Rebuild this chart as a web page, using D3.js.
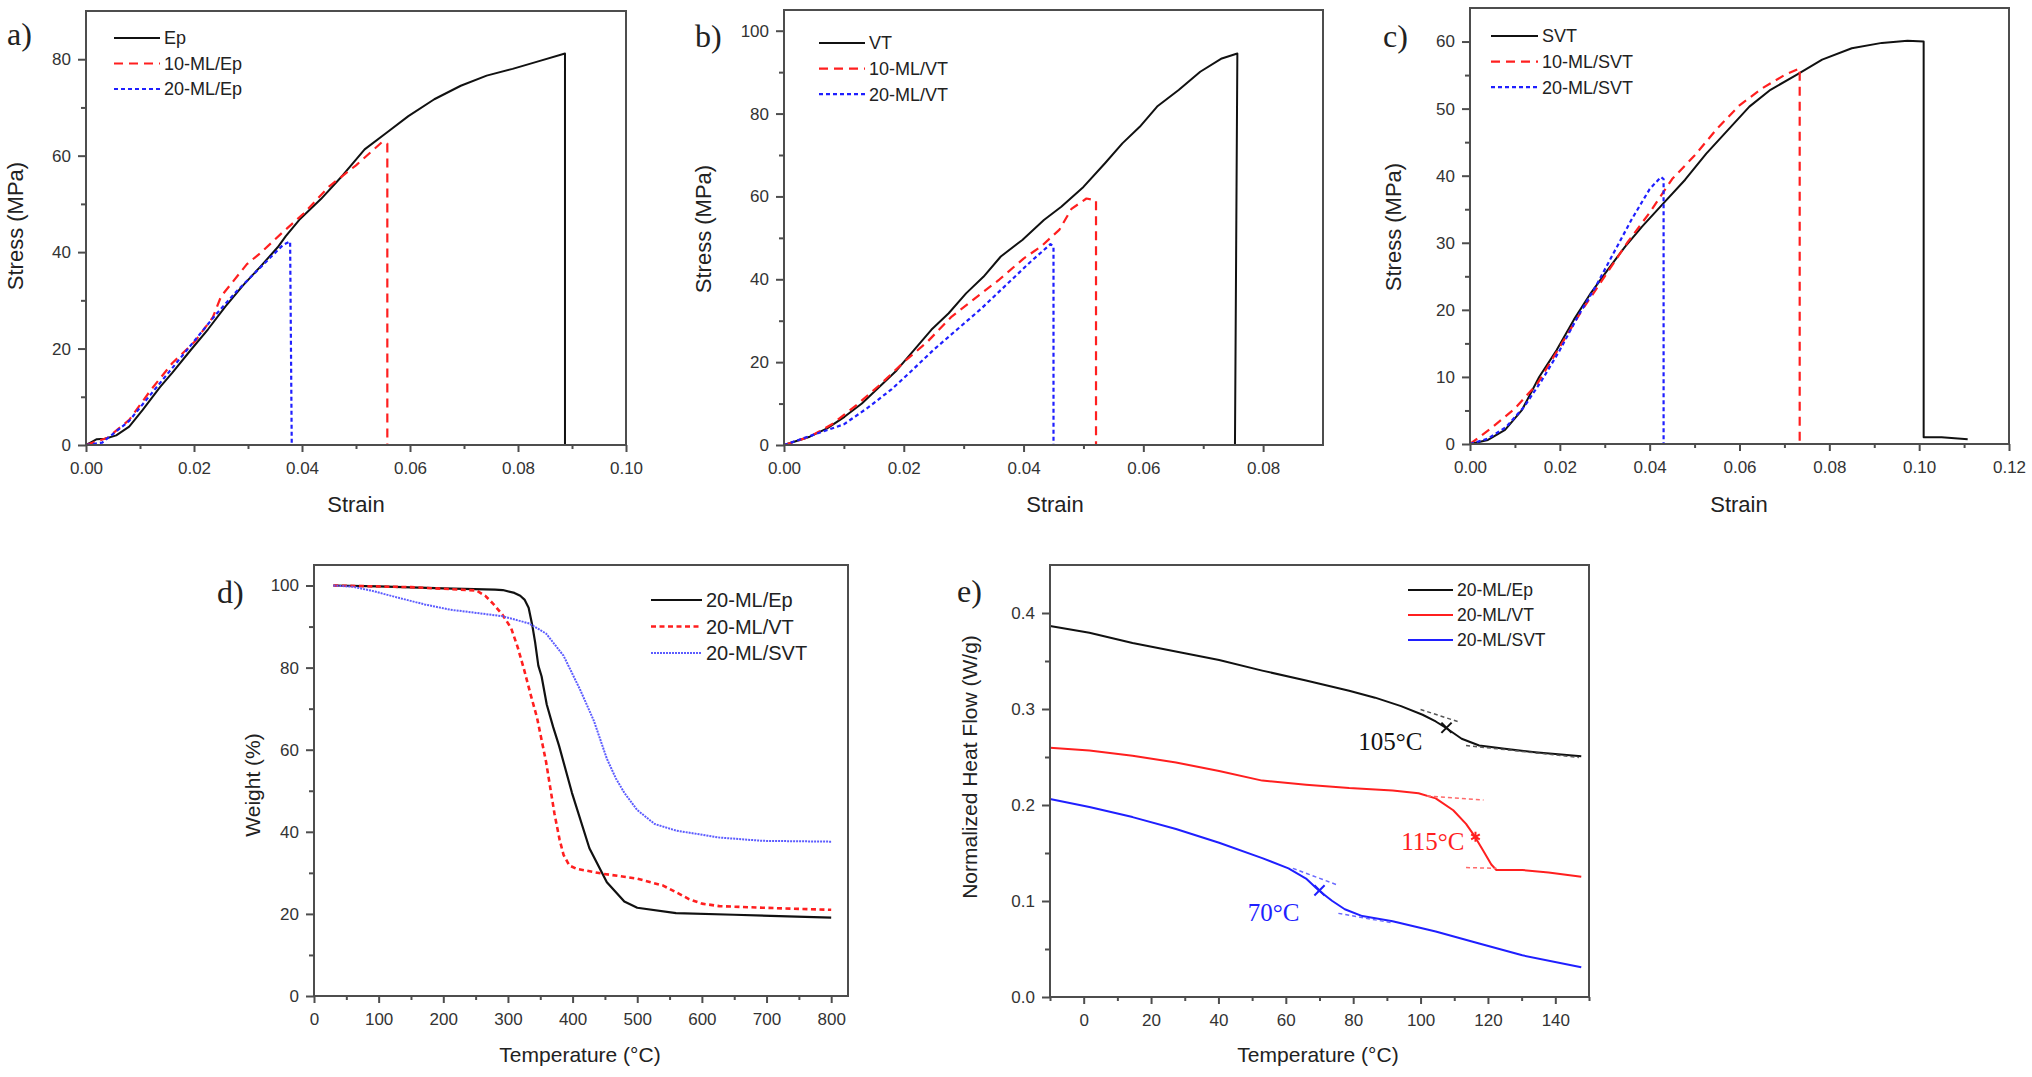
<!DOCTYPE html>
<html>
<head>
<meta charset="utf-8">
<script src="https://cdn.jsdelivr.net/npm/d3@7"></script>
<style>
  body { margin: 0; background: #fff; }
  svg { display: block; }
  text { font-family: "Liberation Sans", Arial, sans-serif; fill: #222; }
  .serif { font-family: "Liberation Serif", "Times New Roman", serif; }
  .tick text { fill: #333; }
</style>
</head>
<body>
<svg id="fig" width="2032" height="1077"></svg>
<script>
// ---- a) tensile, epoxy series [strain, stress MPa]
const aEp = [[0,0],[0.001,0.6],[0.002,1.2],[0.0035,1.3],[0.0056,2],[0.008,3.8],[0.0105,7.3],[0.0137,12],[0.016,15],
  [0.0194,19.7],[0.0226,24],[0.0258,28.7],[0.029,33],[0.0323,37],[0.0355,41],[0.037,43.3],[0.0395,46.7],[0.0435,51],
  [0.0476,56],[0.0516,61.3],[0.0556,64.7],[0.0597,68.2],[0.0645,71.7],[0.0694,74.5],[0.0742,76.6],[0.079,78],
  [0.0839,79.6],[0.0887,81.2],[0.0887,0]];
const aMl10 = [[0,0],[0.004,1.5],[0.008,5.2],[0.012,11.4],[0.016,17],[0.0202,21.5],[0.0235,26.5],[0.025,30.8],
  [0.0298,37.5],[0.0325,40],[0.0363,44],[0.0403,48],[0.045,53.6],[0.05,58],[0.0548,62.8],[0.0558,62.5],[0.0558,0]];
const aMl20 = [[0,0],[0.003,0.5],[0.008,5],[0.012,10.5],[0.016,16],[0.02,21.5],[0.024,27],[0.028,32],[0.032,36.5],
  [0.0365,41.5],[0.0378,42.2],[0.0381,0]];

// ---- b) tensile, VT series
const bVt = [[0,0],[0.0043,2],[0.0072,4],[0.0101,6.8],[0.013,10],[0.0159,14],[0.0188,18],[0.0217,22.9],[0.0246,27.8],
  [0.0275,31.8],[0.0304,36.6],[0.0333,40.6],[0.0362,45.5],[0.0398,49.5],[0.0434,54.3],[0.0463,57.5],[0.05,62.3],
  [0.0536,68],[0.0565,72.8],[0.0594,76.8],[0.0623,81.7],[0.0659,85.7],[0.0695,90.1],[0.0731,93.3],[0.0757,94.5],[0.0753,0]];
const bMl10 = [[0,0],[0.0043,2],[0.008,5],[0.012,9.5],[0.016,14.5],[0.02,20],[0.024,25],[0.028,31],[0.032,35.5],
  [0.036,40],[0.04,45],[0.043,48],[0.046,52],[0.048,57],[0.0505,59.5],[0.0521,59],[0.0521,0]];
const bMl20 = [[0,0],[0.005,2.5],[0.01,5],[0.014,9],[0.018,13.5],[0.021,17.5],[0.025,23],[0.029,28],[0.033,33],
  [0.037,38.5],[0.041,44],[0.0445,48.5],[0.045,48],[0.045,0]];

// ---- c) tensile, SVT series
const cSvt = [[0,0],[0.004,0.6],[0.0078,2.1],[0.0116,5.1],[0.0154,10],[0.0193,14],[0.0231,18.5],[0.0269,22.5],
  [0.0307,26],[0.0345,29.4],[0.0383,32.4],[0.0431,35.9],[0.0479,39.4],[0.0526,43.3],[0.0574,46.8],[0.0622,50.3],
  [0.0669,52.8],[0.0726,55],[0.0784,57.3],[0.085,59],[0.0917,59.8],[0.0974,60.1],[0.101,60],[0.101,1],[0.105,1],[0.1108,0.7]];
const cMl10 = [[0,0],[0.005,2.5],[0.01,5.3],[0.015,9],[0.02,14.5],[0.025,20],[0.03,25],[0.035,30],[0.04,34.5],
  [0.045,39.5],[0.05,43],[0.055,47],[0.06,50.5],[0.065,53],[0.07,55],[0.0734,56],[0.0734,0]];
const cMl20 = [[0,0],[0.004,0.8],[0.008,2.5],[0.012,5.5],[0.016,9.5],[0.02,14],[0.024,19],[0.028,23.5],[0.032,28.5],
  [0.036,33.5],[0.04,38],[0.0425,39.8],[0.0431,39.5],[0.0431,0]];

// ---- d) TGA [temperature °C, weight %]
const dEp = [[30,100],[100,99.8],[200,99.3],[280,99],[292,98.9],[310,98.2],[319,97.5],[326,96.5],[332,94.6],[338,90],
  [342,86.2],[347,80.5],[352,77.9],[360,71],[370,65.5],[379,61],[399,49.5],[426,36],[453,27.7],[480,23],[500,21.5],
  [560,20.2],[650,19.8],[800,19.1]];
const dVt = [[30,100],[150,99.6],[251,98.8],[265,97.5],[278,95.4],[292,92.8],[305,89.6],[315,85],[325,79.5],[335,73.5],
  [345,67.8],[359,57],[372,44.4],[380,38],[386,34.4],[395,31.8],[406,31],[446,29.8],[500,28.6],[540,26.9],[560,25.3],
  [580,23.6],[600,22.5],[627,21.9],[694,21.5],[800,21]];
const dSvt = [[30,100],[60,99.7],[90,98.7],[131,97],[171,95.4],[211,94.1],[258,93.2],[292,92.5],[332,90.8],[359,88.3],
  [386,82.9],[412,74.5],[433,67],[453,57.8],[467,53],[480,49.5],[500,45.3],[527,41.9],[560,40.3],[627,38.6],[694,37.8],[800,37.6]];

// ---- e) DSC [temperature °C, heat flow W/g]
const eEp = [[-10,0.3865],[1.7,0.3794],[14.5,0.3687],[30,0.358],[40.2,0.351],[53,0.34],[66,0.3296],[78.8,0.319],
  [86.5,0.3118],[94.2,0.303],[100.6,0.294],[104.5,0.287],[107.7,0.28],[112.2,0.269],[117.4,0.262],[125,0.2585],
  [134,0.255],[147.7,0.2507]];
const eVt = [[-10,0.2596],[1.7,0.2567],[14.5,0.2514],[27.4,0.2443],[40.2,0.2354],[53,0.2254],[66,0.2212],[78.8,0.2176],
  [91.7,0.2151],[99.4,0.2123],[104.5,0.2069],[109.7,0.1945],[113.5,0.1803],[116,0.1678],[118.7,0.1518],[121,0.138],
  [122.5,0.1323],[125,0.1323],[130.2,0.1323],[138,0.1298],[147.7,0.1252]];
const eSvt = [[-10,0.2062],[1.7,0.198],[14.5,0.1874],[27.4,0.175],[40.2,0.1607],[53,0.1447],[60.8,0.134],[66,0.1234],
  [69.8,0.111],[73.7,0.1003],[77.5,0.0914],[82.7,0.0843],[91.7,0.0789],[104.5,0.0683],[117.4,0.0558],[130.2,0.0434],[147.7,0.0309]];
// tangent construction lines (two segments each)
const tanEp = [[[100,0.2995],[111,0.287]], [[113.5,0.262],[147,0.2495]]];
const tanVt = [[[101.9,0.2094],[118.7,0.2052]], [[113.5,0.1348],[122.5,0.134]]];
const tanSvt = [[[62.1,0.134],[75.6,0.1163]], [[75.6,0.0871],[91.7,0.0772]]];
const tgTemps = [107.7, 116.3, 70];
const tgValues = [0.2805, 0.1668, 0.111];
const tgLabels = ["105°C", "115°C", "70°C"];

const RED = "#ff1f1f", BLUE = "#1f1fff", BLACK = "#111";
const AXIS = "#4d4d4d";

const svg = d3.select("#fig");
svg.append("rect").attr("width", 2032).attr("height", 1077).attr("fill", "#fff");

function panel(p) {
  const g = svg.append("g");
  const x = d3.scaleLinear().domain(p.xDomain).range([p.left, p.right]);
  const y = d3.scaleLinear().domain(p.yDomain).range([p.bottom, p.top]);

  // minor ticks first, then major ticks with labels
  const gx0 = g.append("g").attr("transform", `translate(0,${p.bottom})`)
    .call(d3.axisBottom(x).tickValues(p.xMinor).tickSize(4).tickFormat(""));
  const gy0 = g.append("g").attr("transform", `translate(${p.left},0)`)
    .call(d3.axisLeft(y).tickValues(p.yMinor).tickSize(5).tickFormat(""));
  const gx = g.append("g").attr("transform", `translate(0,${p.bottom})`)
    .call(d3.axisBottom(x).tickValues(p.xTicks).tickSize(7).tickPadding(10).tickFormat(p.xFmt));
  const gy = g.append("g").attr("transform", `translate(${p.left},0)`)
    .call(d3.axisLeft(y).tickValues(p.yTicks).tickSize(8).tickPadding(7).tickFormat(p.yFmt));
  [gx0, gy0, gx, gy].forEach(a => {
    a.select(".domain").remove();
    a.selectAll("line").attr("stroke", AXIS).attr("stroke-width", 2);
    a.selectAll("text").attr("font-size", 17).attr("font-family", '"Liberation Sans", Arial, sans-serif');
  });

  const line = d3.line().x(d => x(d[0])).y(d => y(d[1]));
  p.series.forEach(s => {
    g.append("path").datum(s.data)
      .attr("fill", "none").attr("stroke", s.color).attr("stroke-width", s.width || 2)
      .attr("stroke-dasharray", s.dash || null).attr("stroke-linejoin", "round")
      .attr("d", line);
  });

  // frame box
  g.append("rect").attr("x", p.left).attr("y", p.top)
    .attr("width", p.right - p.left).attr("height", p.bottom - p.top)
    .attr("fill", "none").attr("stroke", AXIS).attr("stroke-width", 2);

  // legend
  const L = p.legend;
  p.series.forEach((s, i) => {
    const yy = p.top + L.y + i * L.row;
    g.append("line").attr("x1", p.left + L.x).attr("x2", p.left + L.x + L.len)
      .attr("y1", yy).attr("y2", yy).attr("stroke", s.color).attr("stroke-width", s.width || 2)
      .attr("stroke-dasharray", s.dash || null);
    g.append("text").attr("x", p.left + L.x + L.len + 4).attr("y", yy).attr("dy", "0.35em")
      .attr("font-size", L.font).text(s.name);
  });

  // axis titles and panel letter
  g.append("text").attr("x", p.xTitle[0]).attr("y", p.xTitle[1]).attr("text-anchor", "middle")
    .attr("font-size", p.titleSize).text(p.xLabel);
  g.append("text").attr("transform", `translate(${p.yTitle[0]},${p.yTitle[1]}) rotate(-90)`)
    .attr("text-anchor", "middle").attr("dy", "0.35em")
    .attr("font-size", p.titleSize).text(p.yLabel);
  g.append("text").attr("class", "serif").attr("x", p.letter[0]).attr("y", p.letter[1])
    .attr("font-size", 32).text(p.letterText);

  return { g, x, y, line };
}

const f2 = d3.format(".2f");
const tensileLeg = { x: 28, y: 27, row: 25.5, len: 46, font: 18 };

panel({
  left: 86, right: 626, top: 11, bottom: 445,
  xDomain: [0, 0.1], yDomain: [0, 90],
  xTicks: d3.range(0, 0.1001, 0.02), xMinor: d3.range(0.01, 0.1, 0.02), xFmt: f2,
  yTicks: [0, 20, 40, 60, 80], yMinor: [10, 30, 50, 70], yFmt: d3.format("d"),
  series: [
    { name: "Ep", data: aEp, color: BLACK },
    { name: "10-ML/Ep", data: aMl10, color: RED, dash: "9,6", width: 2.2 },
    { name: "20-ML/Ep", data: aMl20, color: BLUE, dash: "4,3", width: 2.2 }
  ],
  legend: tensileLeg,
  xLabel: "Strain", yLabel: "Stress (MPa)", titleSize: 22,
  xTitle: [356, 512], yTitle: [15, 226], letter: [7, 45], letterText: "a)"
});

panel({
  left: 784, right: 1323, top: 10, bottom: 445,
  xDomain: [0, 0.09], yDomain: [0, 105],
  xTicks: d3.range(0, 0.0801, 0.02), xMinor: d3.range(0.01, 0.09, 0.02), xFmt: f2,
  yTicks: [0, 20, 40, 60, 80, 100], yMinor: [10, 30, 50, 70, 90], yFmt: d3.format("d"),
  series: [
    { name: "VT", data: bVt, color: BLACK },
    { name: "10-ML/VT", data: bMl10, color: RED, dash: "9,6", width: 2.2 },
    { name: "20-ML/VT", data: bMl20, color: BLUE, dash: "4,3", width: 2.2 }
  ],
  legend: { x: 35, y: 33, row: 25.6, len: 46, font: 18 },
  xLabel: "Strain", yLabel: "Stress (MPa)", titleSize: 22,
  xTitle: [1055, 512], yTitle: [703, 229], letter: [695, 47], letterText: "b)"
});

panel({
  left: 1470, right: 2009, top: 8, bottom: 444,
  xDomain: [0, 0.12], yDomain: [0, 65],
  xTicks: d3.range(0, 0.1201, 0.02), xMinor: d3.range(0.01, 0.12, 0.02), xFmt: f2,
  yTicks: [0, 10, 20, 30, 40, 50, 60], yMinor: [5, 15, 25, 35, 45, 55], yFmt: d3.format("d"),
  series: [
    { name: "SVT", data: cSvt, color: BLACK },
    { name: "10-ML/SVT", data: cMl10, color: RED, dash: "9,6", width: 2.2 },
    { name: "20-ML/SVT", data: cMl20, color: BLUE, dash: "4,3", width: 2.2 }
  ],
  legend: { x: 21, y: 28, row: 25.6, len: 47, font: 18 },
  xLabel: "Strain", yLabel: "Stress (MPa)", titleSize: 22,
  xTitle: [1739, 512], yTitle: [1393, 227], letter: [1383, 47], letterText: "c)"
});

panel({
  left: 314, right: 848, top: 565, bottom: 996,
  xDomain: [0, 826], yDomain: [0, 105],
  xTicks: d3.range(0, 801, 100), xMinor: d3.range(50, 826, 100), xFmt: d3.format("d"),
  yTicks: [0, 20, 40, 60, 80, 100], yMinor: [10, 30, 50, 70, 90], yFmt: d3.format("d"),
  series: [
    { name: "20-ML/Ep", data: dEp, color: BLACK, width: 2.2 },
    { name: "20-ML/VT", data: dVt, color: RED, dash: "5,3.5", width: 2.6 },
    { name: "20-ML/SVT", data: dSvt, color: "#5c5cff", dash: "2,1", width: 2 }
  ],
  legend: { x: 337, y: 35, row: 26.5, len: 51, font: 20 },
  xLabel: "Temperature (°C)", yLabel: "Weight (%)", titleSize: 21,
  xTitle: [580, 1062], yTitle: [253, 785], letter: [217, 603], letterText: "d)"
});

const pe = panel({
  left: 1050, right: 1589, top: 565, bottom: 997,
  xDomain: [-10, 150], yDomain: [0, 0.45],
  xTicks: d3.range(0, 141, 20), xMinor: d3.range(-10, 151, 20), xFmt: d3.format("d"),
  yTicks: [0, 0.1, 0.2, 0.3, 0.4], yMinor: [0.05, 0.15, 0.25, 0.35], yFmt: d3.format(".1f"),
  series: [
    { name: "20-ML/Ep", data: eEp, color: BLACK, width: 2 },
    { name: "20-ML/VT", data: eVt, color: RED, width: 2 },
    { name: "20-ML/SVT", data: eSvt, color: BLUE, width: 2 }
  ],
  legend: { x: 358, y: 25, row: 25, len: 45, font: 17.5 },
  xLabel: "Temperature (°C)", yLabel: "Normalized Heat Flow (W/g)", titleSize: 21,
  xTitle: [1318, 1062], yTitle: [970, 767], letter: [957, 602], letterText: "e)"
});

// tangent lines, Tg markers and labels for panel e
const tanColors = ["#555", "#ff6a6a", "#6a6aff"];
[tanEp, tanVt, tanSvt].forEach((segs, i) => {
  segs.forEach(seg => {
    pe.g.append("path").datum(seg).attr("d", pe.line)
      .attr("fill", "none").attr("stroke", tanColors[i]).attr("stroke-width", 1.5)
      .attr("stroke-dasharray", "4,3");
  });
});
const tgColors = [BLACK, RED, BLUE];
const tgSymbols = [d3.symbolX, d3.symbolAsterisk, d3.symbolX];
const tgOffsets = [[-24, 22], [-11, 13], [-20, 31]];
tgTemps.forEach((t, i) => {
  const px = pe.x(t), py = pe.y(tgValues[i]);
  pe.g.append("path").attr("d", d3.symbol(tgSymbols[i], 70)())
    .attr("transform", `translate(${px},${py})`)
    .attr("fill", "none").attr("stroke", tgColors[i]).attr("stroke-width", 2);
  pe.g.append("text").attr("class", "serif")
    .attr("x", px + tgOffsets[i][0]).attr("y", py + tgOffsets[i][1])
    .attr("text-anchor", "end").attr("font-size", 25)
    .style("fill", tgColors[i]).text(tgLabels[i]);
});
</script>
</body>
</html>
